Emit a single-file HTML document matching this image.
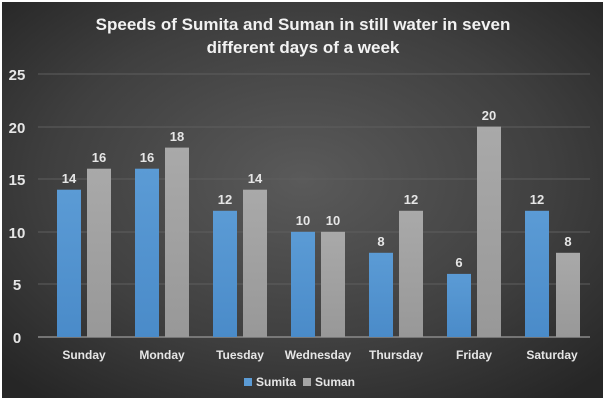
<!DOCTYPE html>
<html><head><style>
html,body{margin:0;padding:0;background:#fff;}
svg{display:block;}
text{font-family:"Liberation Sans",sans-serif;font-weight:bold;}
</style></head><body>
<svg width="606" height="400" viewBox="0 0 606 400" xmlns="http://www.w3.org/2000/svg">
<defs>
<radialGradient id="bg" cx="50%" cy="45%" r="70%">
<stop offset="0" stop-color="#5a5a5a"/>
<stop offset="0.6" stop-color="#3f3f3f"/>
<stop offset="1" stop-color="#262626"/>
</radialGradient>
<linearGradient id="bl" x1="0" y1="0" x2="0" y2="1"><stop offset="0" stop-color="#5b9bd5"/><stop offset="1" stop-color="#4a8bc9"/></linearGradient>
<linearGradient id="gr" x1="0" y1="0" x2="0" y2="1"><stop offset="0" stop-color="#a9a9a9"/><stop offset="1" stop-color="#989898"/></linearGradient>
</defs>
<rect x="2" y="2" width="601" height="396" fill="url(#bg)"/>
<text x="303" y="30" fill="#f2f2f2" font-size="17" text-anchor="middle">Speeds of Sumita and Suman in still water in seven</text>
<text x="303" y="53" fill="#f2f2f2" font-size="17" text-anchor="middle">different days of a week</text>
<g stroke="#5e5e5e" stroke-width="1">
<line x1="38" x2="590" y1="74" y2="74"/>
<line x1="38" x2="590" y1="127" y2="127"/>
<line x1="38" x2="590" y1="179" y2="179"/>
<line x1="38" x2="590" y1="232" y2="232"/>
<line x1="38" x2="590" y1="284" y2="284"/>
</g>
<g fill="#e6e6e6" font-size="15" text-anchor="middle">
<text x="17" y="80">25</text><text x="17" y="133">20</text><text x="17" y="185">15</text>
<text x="17" y="238">10</text><text x="17" y="290">5</text><text x="17" y="343">0</text>
</g>
<g id="bars"></g>
<line x1="38" x2="590" y1="337" y2="337" stroke="#8a8a8a" stroke-width="1.5"/>
<g font-size="12" fill="#e6e6e6" text-anchor="middle">
<text x="84" y="359">Sunday</text><text x="162" y="359">Monday</text><text x="240" y="359">Tuesday</text>
<text x="318" y="359">Wednesday</text><text x="396" y="359">Thursday</text><text x="474" y="359">Friday</text><text x="552" y="359">Saturday</text>
</g>
<rect x="244" y="378" width="8" height="8" fill="#5b9bd5"/>
<text x="256" y="386" font-size="12" fill="#e6e6e6" font-weight="normal">Sumita</text>
<rect x="303" y="378" width="8" height="8" fill="#a5a5a5"/>
<text x="315" y="386" font-size="12" fill="#e6e6e6" font-weight="normal">Suman</text>
<g font-size="13" fill="#e6e6e6" text-anchor="middle">
<!-- bars -->
<rect x="57" y="189.7" width="24" height="147.3" fill="url(#bl)"/><text x="69" y="183">14</text>
<rect x="87" y="168.7" width="24" height="168.3" fill="url(#gr)"/><text x="99" y="162">16</text>
<rect x="135" y="168.7" width="24" height="168.3" fill="url(#bl)"/><text x="147" y="162">16</text>
<rect x="165" y="147.6" width="24" height="189.4" fill="url(#gr)"/><text x="177" y="141">18</text>
<rect x="213" y="210.8" width="24" height="126.2" fill="url(#bl)"/><text x="225" y="204">12</text>
<rect x="243" y="189.7" width="24" height="147.3" fill="url(#gr)"/><text x="255" y="183">14</text>
<rect x="291" y="231.8" width="24" height="105.2" fill="url(#bl)"/><text x="303" y="225">10</text>
<rect x="321" y="231.8" width="24" height="105.2" fill="url(#gr)"/><text x="333" y="225">10</text>
<rect x="369" y="252.8" width="24" height="84.2" fill="url(#bl)"/><text x="381" y="246">8</text>
<rect x="399" y="210.8" width="24" height="126.2" fill="url(#gr)"/><text x="411" y="204">12</text>
<rect x="447" y="273.9" width="24" height="63.1" fill="url(#bl)"/><text x="459" y="267">6</text>
<rect x="477" y="126.6" width="24" height="210.4" fill="url(#gr)"/><text x="489" y="120">20</text>
<rect x="525" y="210.8" width="24" height="126.2" fill="url(#bl)"/><text x="537" y="204">12</text>
<rect x="556" y="252.8" width="24" height="84.2" fill="url(#gr)"/><text x="568" y="246">8</text>
</g>
</svg>
</body></html>
